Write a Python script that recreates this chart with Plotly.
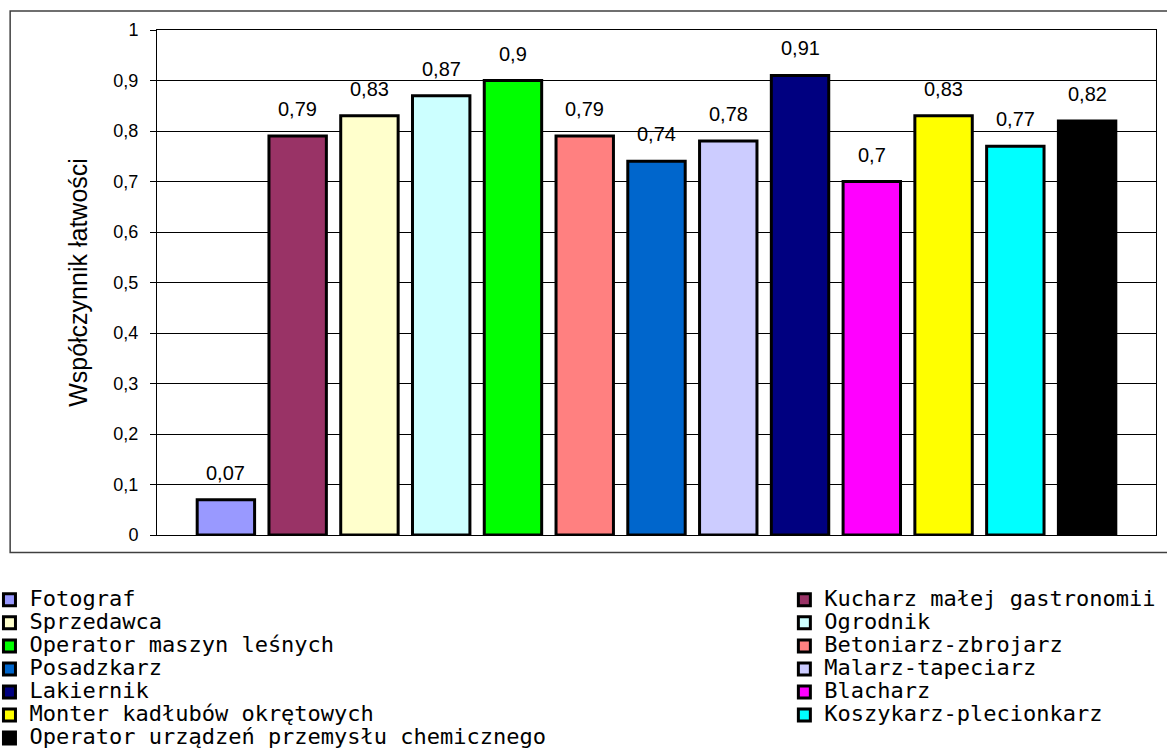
import plotly.graph_objects as go

categories = [
    "Fotograf", "Kucharz małej gastronomii", "Sprzedawca", "Ogrodnik",
    "Operator maszyn leśnych", "Betoniarz-zbrojarz", "Posadzkarz", "Malarz-tapeciarz",
    "Lakiernik", "Blacharz", "Monter kadłubów okrętowych", "Koszykarz-plecionkarz",
    "Operator urządzeń przemysłu chemicznego",
]
values = [0.07, 0.79, 0.83, 0.87, 0.90, 0.79, 0.74, 0.78, 0.91, 0.70, 0.83, 0.77, 0.82]
colors = [
    "#9999FF", "#993366", "#FFFFCC", "#CCFFFF", "#00FF00", "#FF8080", "#0066CC",
    "#CCCCFF", "#000080", "#FF00FF", "#FFFF00", "#00FFFF", "#000000",
]
y_tick_vals = [0, 0.1, 0.2, 0.3, 0.4, 0.5, 0.6, 0.7, 0.8, 0.9, 1.0]
y_tick_text = ["0", "0,1", "0,2", "0,3", "0,4", "0,5", "0,6", "0,7", "0,8", "0,9", "1"]
y_title = "Współczynnik łatwości"


def fmt(v):
    return ("%g" % v).replace(".", ",")


fig = go.Figure()
for i, (cat, val, col) in enumerate(zip(categories, values, colors)):
    fig.add_trace(go.Bar(
        x=[cat], y=[val],
        name='<span style="font-size:22px">%s</span>' % cat,
        marker=dict(color=col, line=dict(color="black", width=3)),
        legend="legend" if i % 2 == 0 else "legend2",
        showlegend=True,
    ))
    fig.add_annotation(
        x=cat, y=val, text=fmt(val), showarrow=False,
        yanchor="bottom", yshift=14,
        font=dict(family="Arial, Liberation Sans", size=20, color="black"),
    )

legend_common = dict(
    orientation="v", yanchor="top", xanchor="left",
    font=dict(family="DejaVu Sans Mono", size=15.4, color="black"),
    bgcolor="rgba(0,0,0,0)", borderwidth=0, traceorder="normal",
    maxheight=400,
)

fig.update_layout(
    width=1167, height=749,
    margin=dict(l=157, r=11, t=30, b=214, autoexpand=False),
    paper_bgcolor="white", plot_bgcolor="white",
    barmode="overlay", bargap=0.2,
    showlegend=True,
    legend=dict(x=-0.1677, y=-0.0957, **legend_common),
    legend2=dict(x=0.628, y=-0.0957, **legend_common),
    font=dict(family="Arial, Liberation Sans", color="black"),
    xaxis=dict(
        range=[-0.96, 12.96], showticklabels=False, ticks="",
        showline=True, mirror=True, linecolor="black", linewidth=1,
        showgrid=False, zeroline=False, fixedrange=True,
    ),
    yaxis=dict(
        range=[0, 1], tickvals=y_tick_vals, ticktext=y_tick_text,
        ticks="outside", ticklen=6, tickcolor="black", tickwidth=1,
        ticklabelstandoff=8,
        tickfont=dict(family="Arial, Liberation Sans", size=18, color="black"),
        showline=True, mirror=True, linecolor="black", linewidth=1,
        showgrid=True, gridcolor="black", gridwidth=1, zeroline=False,
        title=dict(text=y_title, standoff=18,
                   font=dict(family="Arial, Liberation Sans", size=25, color="black")),
        automargin=False,
    ),
    shapes=[dict(
        type="rect", xref="paper", yref="paper",
        x0=-0.147, x1=1.2, y0=-0.0347, y1=1.0376,
        line=dict(color="#404040", width=1.5), fillcolor="rgba(0,0,0,0)",
        layer="below",
    )],
)

fig.write_html(
    "out.html",
    config={"displayModeBar": False},
    post_script="document.body.style.margin='0';",
)
